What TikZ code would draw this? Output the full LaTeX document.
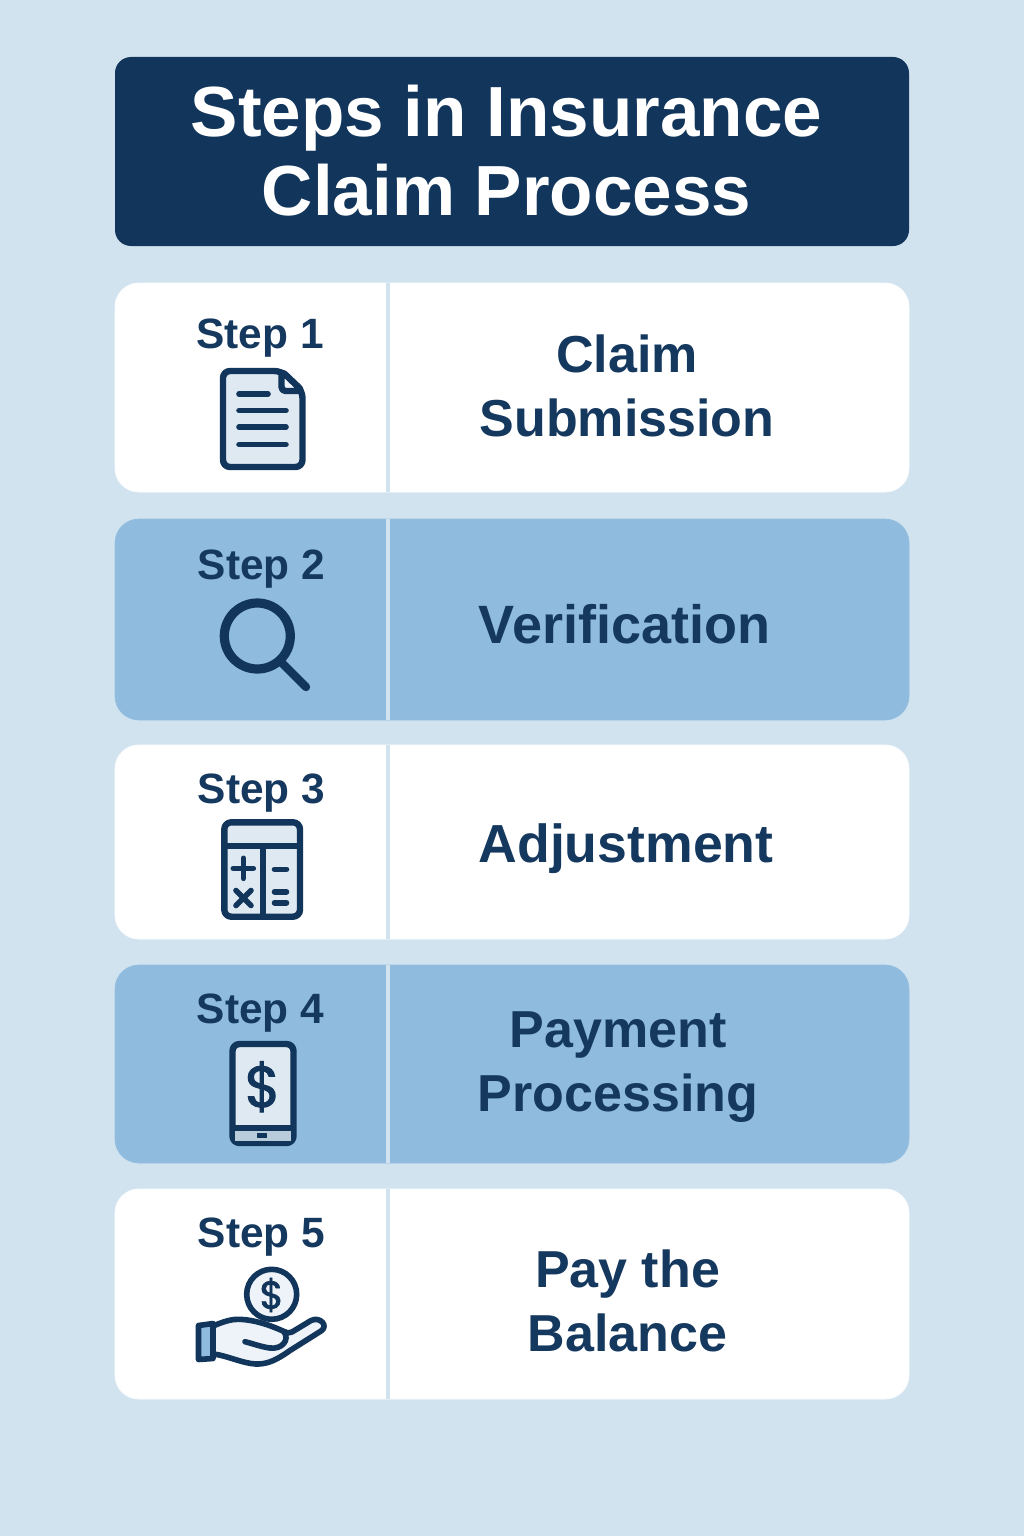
\documentclass[tikz,border=0pt]{standalone}
\usepackage{fontspec}
\setmainfont{Liberation Sans}
\newfontfamily\dollarfont[FakeBold=1.6]{Poppins}
\definecolor{bgblue}{HTML}{D2E3F0}
\definecolor{navy}{HTML}{12355B}
\definecolor{ink}{HTML}{15385F}
\definecolor{midblue}{HTML}{8FBBDE}
\definecolor{pale}{HTML}{DFE9F2}
\definecolor{barfill}{HTML}{B9CCDC}
\tikzset{
  cardbox/.style={rectangle,rounded corners=12pt,inner sep=0pt,minimum width=397pt,anchor=center},
  whitecard/.style={cardbox,fill=white,draw=white!92!bgblue,line width=.4pt},
  bluecard/.style={cardbox,fill=midblue,draw=midblue!90!bgblue,line width=.4pt},
  divider/.style={draw=bgblue,line width=2pt},
  titletext/.style={text=white,font=\bfseries\fontsize{35.5}{39.5}\selectfont,align=center,inner sep=0pt},
  steptext/.style={text=ink,font=\bfseries\fontsize{21.2}{24}\selectfont,anchor=base,inner sep=0pt},
  labeltext/.style={text=ink,font=\bfseries\fontsize{26}{32}\selectfont,align=center,inner sep=0pt},
  icon/.style={draw=navy,line width=3.2pt,line join=round,line cap=round},
  iconthin/.style={draw=navy,line width=2.8pt,line cap=round},
  dollar/.style={text=navy,inner sep=0pt}
}
\begin{document}
\begin{tikzpicture}[x=.5pt,y=-.5pt]
\useasboundingbox (0,0) rectangle (1024,1536);
\fill[bgblue] (0,0) rectangle (1024,1536);
% header
\node[rectangle,rounded corners=8pt,fill=navy,minimum width=397pt,minimum height=94.5pt,inner sep=0pt] (header) at (512,151.5) {};
\node[titletext] (title) at (506.5,151) {Steps in Insurance\\Claim Process};
% cards
\node[whitecard,minimum height=104.5pt] (c1) at (512,387.5) {};
\node[bluecard,minimum height=100.5pt] (c2) at (512,619.5) {};
\node[whitecard,minimum height=97pt] (c3) at (512,842) {};
\node[bluecard,minimum height=99pt] (c4) at (512,1064) {};
\node[whitecard,minimum height=105pt] (c5) at (512,1294) {};
\foreach \n in {c1,c2,c3,c4,c5}{
  \draw[divider] ([xshift=-62pt]\n.north) -- ([xshift=-62pt]\n.south);
}
% labels
\node[steptext] (s1) at (260,348) {Step 1};
\node[steptext] (s2) at (261.5,579) {Step 2};
\node[steptext] (s3) at (261.5,803) {Step 3};
\node[steptext] (s4) at (260.5,1023) {Step 4};
\node[steptext] (s5) at (261.5,1247) {Step 5};
\node[labeltext] (l1) at (627,385.5) {Claim\\Submission};
\node[labeltext,font=\bfseries\fontsize{27}{32}\selectfont] (l2) at (624.5,624) {Verification};
\node[labeltext,font=\bfseries\fontsize{26.8}{32}\selectfont] (l3) at (626,849) {Adjustment};
\node[labeltext] (l4) at (618,1067) {Payment\\Processing};
\node[labeltext] (l5) at (627.5,1300.5) {Pay the\\Balance};
% document icon
\draw[icon,fill=pale,rounded corners=3.5pt] (250,371) -- (223,371) -- (223,467) -- (302.5,467) -- (302.5,391) -- (281.5,371) -- cycle;
\draw[icon,fill=white!60!pale,rounded corners=2pt] (281.5,371) -- (281.5,391) -- (302.5,391) -- cycle;
\draw[iconthin] (239,394) -- (268,394);
\draw[iconthin] (239,410.5) -- (286,410.5);
\draw[iconthin] (239,427) -- (286,427);
\draw[iconthin] (239,444.5) -- (286,444.5);
% magnifier
\draw[draw=navy,line width=4.6pt] (257.3,636) circle[radius=33];
\draw[draw=navy,line width=4.2pt,line cap=round] (281,662) -- (306,687);
% calculator
\draw[icon,fill=pale,rounded corners=3.5pt] (224.3,822.3) rectangle (300,916.7);
\draw[draw=navy,line width=3.2pt] (224.3,846) -- (300,846);
\draw[draw=navy,line width=3.2pt] (262.7,846) -- (262.7,916.7);
\draw[iconthin] (233.3,868.3) -- (253.3,868.3);
\draw[iconthin] (243.3,858.3) -- (243.3,878.3);
\draw[iconthin] (236,890.5) -- (251,905.5);
\draw[iconthin] (251,890.5) -- (236,905.5);
\draw[iconthin] (274.5,869.3) -- (286.5,869.3);
\draw[iconthin] (274.5,891.7) -- (286.5,891.7);
\draw[iconthin] (274.5,902.7) -- (286.5,902.7);
% phone
\draw[icon,fill=pale,rounded corners=3.5pt] (232.5,1044) rectangle (293.5,1143);
\fill[barfill] (235,1128) rectangle (291,1141);
\draw[draw=navy,line width=3.2pt] (232.5,1127.7) -- (293.5,1127.7);
\fill[navy] (256.7,1132.7) rectangle (267.3,1137.5);
\node[dollar,font=\dollarfont\fontsize{29}{29}\selectfont] (d1) at (262.7,1086.7) {\$};
% hand
\fill[pale!55!white]
  (213,1326) .. controls (225,1321) and (232,1319) .. (240,1319.3)
  .. controls (255,1320) and (270,1325) .. (284,1331.5)
  .. controls (287,1333) and (289,1333.5) .. (292,1332)
  -- (311,1320.5)
  .. controls (320,1316) and (329,1326) .. (321,1331)
  -- (290,1350.5)
  .. controls (278,1359) and (268,1364.5) .. (256,1364)
  .. controls (243,1363.5) and (228,1356) .. (214,1354) -- cycle;
\draw[draw=navy,line width=2.8pt,line cap=round,line join=round]
  (213,1326) .. controls (225,1321) and (232,1319) .. (240,1319.3)
  .. controls (255,1320) and (270,1325) .. (284,1331.5)
  .. controls (287,1333) and (289,1333.5) .. (292,1332)
  -- (311,1320.5)
  .. controls (320,1316) and (329,1326) .. (321,1331)
  -- (290,1350.5)
  .. controls (278,1359) and (268,1364.5) .. (256,1364)
  .. controls (243,1363.5) and (228,1356) .. (214,1354);
\draw[draw=navy,line width=2.8pt,line cap=round]
  (245,1341.7) .. controls (254,1344) and (262,1347) .. (270,1348)
  .. controls (282,1349.5) and (290,1340) .. (284,1331.5);
\draw[draw=navy,line width=2.8pt,line join=round,fill=midblue] (198.5,1325.5) -- (213,1323.5) -- (213,1358.5) -- (198.5,1359.5) -- cycle;
\draw[draw=navy,line width=2.8pt,fill=pale!55!white] (271.7,1294.3) circle[radius=25];
\node[dollar,font=\dollarfont\fontsize{19.5}{19.5}\selectfont] (d2) at (271.7,1295) {\$};
\end{tikzpicture}
\end{document}
